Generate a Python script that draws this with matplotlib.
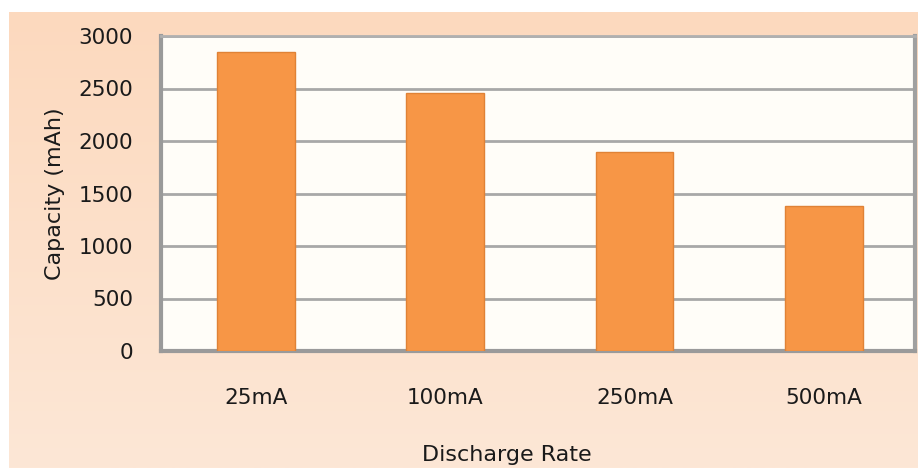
import numpy as np
import matplotlib
matplotlib.use("Agg")
import matplotlib.pyplot as plt
from matplotlib.colors import LinearSegmentedColormap

# data
rates = ['25mA', '100mA', '250mA', '500mA']
capacity = [2850, 2460, 1900, 1380]
yticks = [0, 500, 1000, 1500, 2000, 2500, 3000]

W, H = 918, 468
fig = plt.figure(figsize=(W / 100, H / 100), dpi=100)
fig.patch.set_facecolor('white')

# peach gradient background of the chart area
bg = fig.add_axes([9 / W, 0, 1 - 9 / W, 1 - 12 / H])
peach = LinearSegmentedColormap.from_list('peach', ['#FCD9BE', '#FDE7D6'])
grad = np.linspace(0, 1, 256).reshape(-1, 1)
bg.imshow(grad, aspect='auto', cmap=peach, extent=[0, 1, 0, 1], origin='upper')
bg.set_axis_off()

# plot area
left, right, top, bottom = 161, 915, 36, 351
ax = fig.add_axes([left / W, 1 - bottom / H, (right - left) / W, (bottom - top) / H])
ax.set_facecolor('#FFFDF8')

x = np.arange(len(rates))
ax.bar(x, capacity, width=0.41, color='#F79646', edgecolor='#E08236', linewidth=1, zorder=3)

# the last category is a little clipped by the right wall in the original
ax.set_xlim(-0.5, len(rates) - 0.52)
ax.set_ylim(0, 3000)
ax.set_yticks(yticks)
ax.set_yticklabels([str(v) for v in yticks])
ax.set_xticks(x)
ax.set_xticklabels(rates)

ax.yaxis.grid(True, color='#A8A8A8', linewidth=2, zorder=1)
ax.set_axisbelow(True)
ax.tick_params(axis='both', length=0, labelsize=15.5, colors='#1A1A1A')
ax.tick_params(axis='y', pad=20)
ax.tick_params(axis='x', pad=27)

for side in ['left', 'bottom']:
    ax.spines[side].set_color('#9A9A9A')
    ax.spines[side].set_linewidth(3)
ax.spines['top'].set_color('#B0B0B0')
ax.spines['top'].set_linewidth(2)
ax.spines['right'].set_color('#A0A0A0')
ax.spines['right'].set_linewidth(3)

ax.set_ylabel('Capacity (mAh)', fontsize=16, color='#1A1A1A', labelpad=10)
fig.text(507 / W, 1 - 455 / H, 'Discharge Rate', fontsize=16, color='#1A1A1A',
         ha='center', va='center')

fig.savefig('out.png', dpi=100, facecolor=fig.get_facecolor())
